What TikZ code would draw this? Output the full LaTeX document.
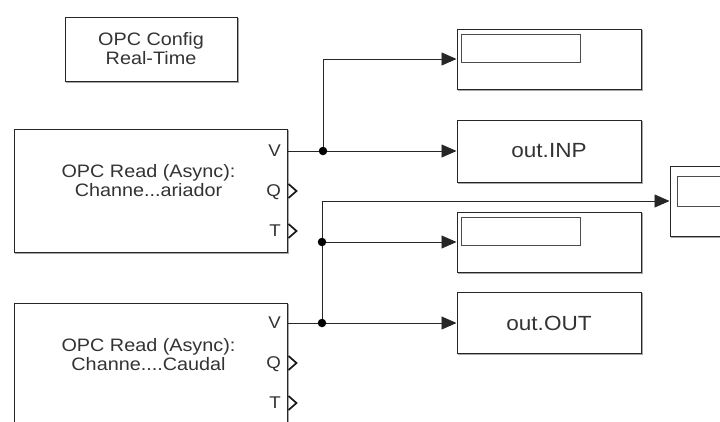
\documentclass[tikz,border=0pt]{standalone}
\usepackage{fontspec}
\setmainfont[FakeStretch=1.1]{Liberation Sans}
\usetikzlibrary{arrows.meta, positioning, calc, shadows}

\begin{document}
\begin{tikzpicture}[
    x=1pt,y=-1pt,
    block/.style={
        draw=black!85,
        fill=white,
        line width=1pt,
        general shadow={shadow xshift=1.2pt, shadow yshift=-1.2pt, draw=black!35, line width=1.4pt},
        inner sep=0pt,
        align=center,
        text=black!80,
        font=\fontsize{18}{19}\selectfont
    },
    blocktext/.style={
        align=center,
        text=black!80,
        inner sep=0pt,
        font=\fontsize{18}{19}\selectfont
    },
    portlabel/.style={
        anchor=east,
        inner sep=0pt,
        text depth=0pt,
        text=black!80,
        font=\fontsize{17}{17}\selectfont
    },
    portmark/.style={line width=1.7pt, black!90},
    screen/.style={draw=black!70, line width=0.8pt},
    junction/.style={circle, fill=black, inner sep=0pt, minimum size=8.5pt},
    wire/.style={line width=0.8pt, black!85},
    sigline/.style={wire, -{Triangle[length=15pt,width=13pt]}}
]
\clip (0,0) rectangle (720,421);

% config block
\node[block, minimum width=172pt, minimum height=64pt] (config) at (151,49) {OPC Config\\Real-Time};

% read blocks
\node[block, minimum width=273pt, minimum height=123pt] (read1) at (150.5,190.5) {};
\node[blocktext] (read1txt) at (148.5,181) {OPC Read (Async):\\Channe...ariador};
\node[portlabel] (read1v) at (281,151) {V};
\node[portlabel] (read1q) at (281,191) {Q};
\node[portlabel] (read1t) at (281,231) {T};

\node[block, minimum width=273pt, minimum height=123pt] (read2) at (150.5,364.5) {};
\node[blocktext] (read2txt) at (148.5,355) {OPC Read (Async):\\Channe....Caudal};
\node[portlabel] (read2v) at (281,323) {V};
\node[portlabel] (read2q) at (281,363) {Q};
\node[portlabel] (read2t) at (281,403) {T};

% open output ports
\foreach \p in {read1q,read1t,read2q,read2t}
    \draw[portmark] ($(read1.east|-\p)+(1,-7)$) -- ++(8,7) -- ++(-8,7);

% sinks
\node[block, minimum width=184pt, minimum height=60pt] (disp1) at (549,59) {};
\draw[screen] ($(disp1.north west)+(5,6)$) rectangle ++(119,28);
\node[block, minimum width=184pt, minimum height=62pt, font=\fontsize{20.5}{21}\selectfont] (inp) at (549,151) {out.INP};
\node[block, minimum width=184pt, minimum height=60pt] (disp2) at (549,242) {};
\draw[screen] ($(disp2.north west)+(5,6)$) rectangle ++(119,28);
\node[block, minimum width=184pt, minimum height=61pt, font=\fontsize{20.5}{21}\selectfont] (outbox) at (549,323) {out.OUT};
\node[block, minimum width=184pt, minimum height=70pt] (disp3) at (762,201) {};
\draw[screen] ($(disp3.north west)+(8,11)$) rectangle ++(150,30);

% branch points
\node[junction] (j1) at (323,151) {};
\node[junction] (j2) at (322,323) {};
\node[junction] (j3) at (322,242) {};

% signal lines
\draw[wire] (read1.east|-read1v) -- (j1);
\draw[sigline] (j1) -- (inp);
\draw[sigline] (j1) |- (disp1);

\draw[wire] (read2.east|-read2v) -- (j2);
\draw[sigline] (j2) -- (outbox);
\draw[wire] (j2) -- (j3);
\draw[sigline] (j3) -- (disp2);
\draw[sigline] (j3) |- (disp3.west);

\end{tikzpicture}
\end{document}
